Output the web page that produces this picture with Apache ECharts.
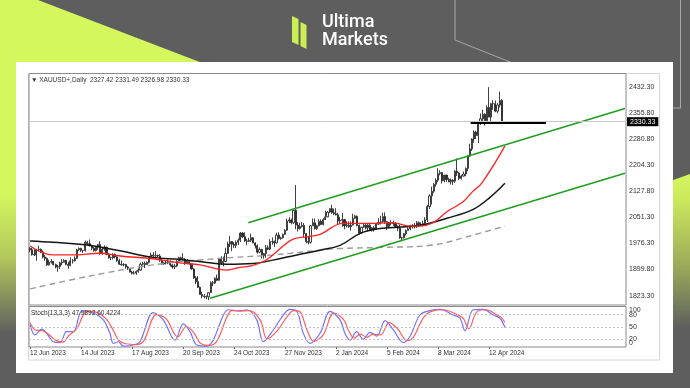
<!DOCTYPE html>
<html><head><meta charset="utf-8">
<script src="https://cdn.jsdelivr.net/npm/echarts@6/dist/echarts.min.js"></script>
<style>html,body{margin:0;padding:0;background:#5e5e5e;}#c{width:690px;height:388px;}</style>
</head><body><div id="c"></div>
<script>
// ---------- DATA ----------
const tickIndex = [0,24,48,72,96,120,144,168,192,216];
const tickLabels = ['12 Jun 2023','14 Jul 2023','17 Aug 2023','20 Sep 2023','24 Oct 2023','27 Nov 2023','2 Jan 2024','5 Feb 2024','8 Mar 2024','12 Apr 2024'];
const priceTicks = [1823.30,1899.80,1976.30,2051.30,2127.80,2204.30,2280.80,2355.80,2432.30];
const stochInnerTicks = [20,50,80];
const stochEdgeTicks = [0,100];
const stochLevels = [20,50,80];
const bidPrice = 2330.33;
const headerText = '\u25BC XAUUSD+,Daily  2327.42 2331.49 2326.98 2330.33';
const stochText = 'Stoch(13,3,3) 47.9892 60.4224';
const totalSlots = 281;
// daily bars from 12 Jun 2023 to 23 Apr 2024: [open, close, low, high]
const ohlc = [
[1961,1957,1950,1964],[1957,1943,1940,1963],[1943,1942,1939,1959],[1942,1958,1925,1959],[1958,1958,1952,1969],
[1958,1951,1947,1961],[1951,1936,1932,1955],[1936,1932,1925,1942],[1932,1913,1910,1935],[1913,1921,1911,1928],
[1921,1923,1917,1930],[1923,1914,1911,1925],[1914,1907,1903,1917],[1907,1908,1893,1913],[1908,1919,1901,1922],
[1919,1921,1912,1930],[1921,1926,1920,1930],[1926,1915,1912,1928],[1915,1911,1902,1922],[1911,1925,1909,1935],
[1925,1925,1917,1930],[1925,1932,1923,1938],[1932,1957,1930,1960],[1957,1961,1954,1964],[1961,1955,1951,1963],
[1955,1955,1948,1957],[1955,1979,1952,1984],[1979,1975,1970,1983],[1975,1969,1967,1987],[1969,1962,1956,1972],
[1962,1955,1952,1965],[1955,1965,1952,1966],[1965,1972,1956,1974],[1972,1945,1943,1982],[1945,1959,1943,1962],
[1959,1965,1954,1970],[1965,1944,1941,1966],[1944,1934,1931,1947],[1934,1934,1927,1937],[1934,1943,1929,1947],
[1943,1936,1932,1946],[1936,1925,1922,1938],[1925,1915,1913,1931],[1915,1913,1911,1926],[1913,1914,1909,1918],
[1914,1907,1902,1916],[1907,1902,1898,1910],[1902,1892,1891,1904],[1892,1889,1885,1896],[1889,1889,1885,1896],
[1889,1894,1884,1897],[1894,1898,1890,1903],[1898,1915,1896,1920],[1915,1917,1911,1922],[1917,1914,1904,1923],
[1914,1920,1913,1923],[1920,1937,1917,1938],[1937,1942,1932,1949],[1942,1940,1936,1950],[1940,1940,1931,1953],
[1940,1939,1935,1943],[1939,1926,1922,1944],[1926,1916,1914,1930],[1916,1919,1913,1922],[1919,1919,1914,1926],
[1919,1922,1915,1929],[1922,1913,1908,1926],[1913,1907,1902,1916],[1907,1910,1901,1916],[1910,1924,1907,1927],
[1924,1934,1923,1937],[1934,1931,1926,1937],[1931,1930,1926,1947],[1930,1919,1913,1933],[1919,1925,1916,1930],
[1925,1916,1914,1926],[1916,1901,1899,1918],[1901,1875,1873,1903],[1875,1864,1857,1880],[1864,1848,1846,1880],
[1848,1827,1827,1850],[1827,1822,1816,1835],[1822,1821,1815,1828],[1821,1820,1813,1824],[1820,1832,1810,1834],
[1832,1861,1832,1865],[1861,1860,1851,1866],[1860,1874,1858,1877],[1874,1868,1866,1885],[1868,1932,1868,1933],
[1932,1919,1914,1938],[1919,1923,1909,1937],[1923,1947,1921,1963],[1947,1974,1945,1981],[1974,1981,1965,1997],
[1981,1973,1953,1982],[1973,1970,1962,1980],[1970,1979,1962,1984],[1979,1985,1971,1990],[1985,2006,1980,2009],
[2006,1995,1991,2008],[1995,1983,1980,2008],[1983,1982,1970,1989],[1982,1985,1980,1992],[1985,1992,1980,2004],
[1992,1977,1976,1994],[1977,1969,1961,1979],[1969,1950,1946,1973],[1950,1958,1947,1964],[1958,1940,1932,1960],
[1940,1946,1931,1948],[1946,1963,1934,1971],[1963,1959,1956,1970],[1959,1981,1956,1988],[1981,1981,1972,1993],
[1981,1977,1965,1984],[1977,2000,1975,2007],[2000,1990,1987,2008],[1990,1992,1986,1995],[1992,2002,1990,2004],
[2002,2014,2001,2017],[2014,2041,2012,2048],[2041,2044,2035,2052],[2044,2036,2031,2048],[2036,2072,2032,2075],
[2072,2029,2017,2146],[2029,2019,2010,2038],[2019,2025,2016,2036],[2025,2028,2022,2038],[2028,2004,1994,2035],
[2004,1981,1976,2006],[1981,1979,1973,1997],[1979,2027,1975,2029],[2027,2036,2026,2048],[2036,2019,2016,2048],
[2019,2027,2015,2030],[2027,2040,2026,2046],[2040,2031,2029,2046],[2031,2045,2028,2049],[2045,2053,2044,2071],
[2053,2067,2052,2070],[2067,2077,2064,2078],[2077,2065,2062,2088],[2065,2062,2058,2077],[2062,2059,2057,2078],
[2059,2041,2030,2065],[2041,2043,2033,2053],[2043,2045,2024,2064],[2045,2027,2017,2047],[2027,2029,2022,2040],
[2029,2024,2021,2040],[2024,2029,2013,2040],[2029,2049,2028,2062],[2049,2055,2047,2059],[2055,2028,2025,2057],
[2028,2006,2001,2031],[2006,2023,2004,2024],[2023,2029,2021,2032],[2029,2021,2016,2032],[2021,2029,2011,2032],
[2029,2015,2013,2036],[2015,2021,2010,2023],[2021,2018,2010,2026],[2018,2032,2016,2035],[2032,2037,2029,2049],
[2037,2039,2031,2056],[2039,2054,2036,2065],[2054,2039,2032,2066],[2039,2025,2015,2040],[2025,2035,2020,2038],
[2035,2035,2028,2043],[2035,2034,2027,2042],[2034,2024,2021,2037],[2024,2020,2011,2028],[2020,1992,1989,2031],
[1992,1992,1984,1995],[1992,2004,1990,2006],[2004,2013,1999,2016],[2013,2018,2013,2023],[2018,2024,2014,2030],
[2024,2025,2019,2032],[2025,2024,2019,2035],[2024,2036,2021,2041],[2036,2031,2026,2040],[2031,2030,2026,2037],
[2030,2034,2025,2042],[2034,2044,2032,2052],[2044,2083,2038,2088],[2083,2114,2076,2119],[2114,2128,2089,2141],
[2128,2148,2123,2152],[2148,2160,2141,2165],[2160,2179,2154,2195],[2179,2182,2174,2189],[2182,2158,2150,2184],
[2158,2175,2154,2175],[2175,2162,2155,2175],[2162,2155,2154,2167],[2155,2160,2147,2165],[2160,2157,2146,2163],
[2157,2186,2152,2189],[2186,2181,2172,2223],[2181,2165,2160,2183],[2165,2172,2162,2176],[2172,2178,2170,2185],
[2178,2194,2171,2197],[2194,2230,2186,2234],[2230,2251,2229,2266],[2251,2280,2245,2282],[2280,2300,2269,2305],
[2300,2290,2280,2304],[2290,2330,2268,2330],[2330,2339,2321,2354],[2339,2352,2325,2365],[2352,2333,2319,2355],
[2333,2372,2325,2378],[2372,2344,2343,2431],[2344,2383,2325,2384],[2383,2383,2365,2393],[2383,2361,2358,2392],
[2361,2379,2355,2385],[2379,2392,2372,2418],[2392,2327,2327,2396],[2327.42,2330.33,2326.98,2331.49]
];
// moving averages: [bar index, value]
const maRed = [[0,1968],[10.8,1942],[20.2,1942],[33,1947],[42.3,1939],[57.9,1931],[70.6,1919],[80,1913],[92.7,1898],[98.8,1906],[104,1910],[111.5,1929],[123.8,1988],[130.4,1995],[136.5,2002],[147.3,2034],[158.6,2034],[170.8,2036],[177.4,2027],[183.5,2026],[189.7,2036],[196.2,2068],[203.8,2097],[208.5,2128],[212.7,2152],[223.5,2259]];
const maBlack = [[0,1983],[10.8,1979],[26.8,1971],[42.4,1954],[57.9,1935],[70.6,1929],[83.3,1920],[92.7,1915],[104.9,1917],[114.3,1927],[125.6,1942],[136.5,1956],[145.9,1970],[155.3,2005],[163,2018],[173,2023],[184,2029],[196.2,2049],[208.6,2075],[216.5,2110],[223.5,2151]];
const maGrey = [[0,1843],[26.8,1879],[57.9,1913],[89.4,1932],[114.3,1942],[136.5,1956],[146,1961],[166.1,1964],[189.7,1971],[205.6,1995],[223.5,2026]];
// trend lines: [bar index, price]
const upperChannel = [[102.7,2036],[280,2369]];
const lowerChannel = [[84.7,1815.7],[280,2180]];
const supportLine = [[207.4,2326.5],[242.8,2326.5]];
// stochastic (13,3,3): [bar index, value]
const stochK = [[0,55],[2.3,30],[5.5,44],[7.8,34],[10.9,13],[14.1,11],[17.2,38],[20.4,38],[23.5,84],[25.1,89],[29.8,84],[34.5,67],[37.6,34],[39.2,9],[41.5,13],[43.9,2],[48.6,5],[51.7,13],[58,85],[62.7,67],[68.2,17],[72.1,57],[75.3,38],[78.4,5],[83.1,2],[86.2,17],[91,79],[93.3,92],[98.8,89],[102,92],[106.7,67],[109.8,13],[114.5,42],[119.2,79],[122.3,93],[125.5,89],[128.6,34],[131.8,9],[136.5,34],[141.2,88],[145.9,67],[148.2,34],[150.6,17],[153.7,38],[156.8,19],[160,36],[163.2,27],[167.1,65],[171,42],[175.7,11],[178.8,26],[183.5,79],[188.2,90],[192.9,93],[199.2,79],[202.4,71],[204.7,40],[208.6,92],[213.3,93],[218,79],[221.2,71],[223.5,47.99]];
const stochD = [[0,60],[2.5,42],[6,40],[9,30],[12,17],[15.5,12],[18.5,30],[22,45],[25,78],[27,88],[31,86],[36,68],[39.5,38],[41.5,18],[45,8],[50,6],[53.5,15],[59.5,80],[64,70],[69.5,25],[73.5,50],[77,36],[80,10],[84.5,4],[88,15],[92.5,72],[95,90],[100.5,89],[103.5,90],[108.5,65],[111.5,20],[116,38],[121,75],[124,90],[127,87],[130.5,40],[133.5,14],[138,30],[143,84],[147.5,68],[150,40],[152.5,22],[155.5,32],[158.5,24],[161.5,32],[165,30],[169,60],[173,45],[177.5,16],[180.5,25],[185.5,75],[190,90],[194.5,92],[201,80],[204,70],[206.5,45],[210.5,88],[215,92],[219.5,80],[222,72],[223.5,60.42]];
const categories = Array.from({length: totalSlots}, (_, i) => String(i));

// ---------- CHART ----------
const FONT = 'Liberation Sans';
const LIME = '#d4f75e';
const BG = '#5e5e5e';
const chart = echarts.init(document.getElementById('c'), null, {renderer: 'canvas', width: 690, height: 388});
const lineSeries = (data, color, width, extra) => Object.assign({
  type: 'line', xAxisIndex: 1, yAxisIndex: 0, data: data, showSymbol: false, symbol: 'none',
  silent: true, lineStyle: {color: color, width: width}, z: 4
}, extra || {});
const labelBase = {fontFamily: FONT, fontSize: 7, color: '#333', margin: 3, hideOverlap: false};

chart.setOption({
  backgroundColor: BG,
  animation: false,
  graphic: [
    {type: 'polygon', z: -10, shape: {points: [[0,0],[38,0],[231,74],[16,74],[16,388],[0,388]]},
      style: {fill: {type: 'linear', x: 0, y: 0, x2: 0, y2: 1, colorStops: [
        {offset: 0, color: LIME}, {offset: 0.5, color: LIME}, {offset: 0.66, color: '#b3c95c'}, {offset: 0.86, color: BG}, {offset: 1, color: BG}]}}},
    {type: 'polygon', z: -10, shape: {points: [[640,192],[690,174],[690,388],[640,388]]},
      style: {fill: {type: 'linear', x: 0, y: 0, x2: 0, y2: 1, colorStops: [
        {offset: 0, color: LIME}, {offset: 0.12, color: '#cce85c'}, {offset: 0.45, color: '#97a65a'}, {offset: 0.72, color: BG}, {offset: 1, color: BG}]}}},
    {type: 'polyline', z: -9, shape: {points: [[455,0],[455,40],[545,76]]}, style: {stroke: '#a8a8a8', lineWidth: 1, fill: null}},
    {type: 'polyline', z: -9, shape: {points: [[680.5,0],[680.5,108],[673,108]]}, style: {stroke: '#a8a8a8', lineWidth: 1, fill: null}},
    {type: 'rect', z: -8, shape: {x: 16, y: 62, width: 657, height: 311}, style: {fill: '#ffffff'}},
    {type: 'rect', z: -7, shape: {x: 28.5, y: 73.5, width: 631, height: 286.5}, style: {fill: '#ffffff', stroke: '#d6d6d6', lineWidth: 1}},
    {type: 'polygon', z: 10, shape: {points: [[292,16],[298.5,19],[298.5,45],[292,42]]}, style: {fill: '#c9ef55'}},
    {type: 'polygon', z: 10, shape: {points: [[300.5,22],[306.5,25],[306.5,49],[300.5,46]]}, style: {fill: '#c9ef55'}},
    {type: 'text', z: 10, style: {x: 322, y: 13, text: 'Ultima', fill: '#ffffff', font: '500 18px Roboto'}},
    {type: 'text', z: 10, style: {x: 322, y: 31, text: 'Markets', fill: '#ffffff', font: '500 18px Roboto'}}
  ],
  title: [
    {text: headerText, left: 31, top: 76.5, textStyle: {fontFamily: FONT, fontSize: 6.5, fontWeight: 'normal', color: '#333'}, padding: 0},
    {text: stochText, left: 31, top: 309.5, textStyle: {fontFamily: FONT, fontSize: 6.5, fontWeight: 'normal', color: '#333'}, padding: 0}
  ],
  grid: [
    {left: 29, top: 73.5, width: 597, height: 231.5, show: true, borderColor: '#8a8a8a', borderWidth: 1, backgroundColor: 'transparent'},
    {left: 29, top: 306.5, width: 597, height: 40.5, show: true, borderColor: '#8a8a8a', borderWidth: 1, backgroundColor: 'transparent'}
  ],
  xAxis: [
    {type: 'category', gridIndex: 0, data: categories, boundaryGap: true, show: false},
    {type: 'value', gridIndex: 0, min: -0.5, max: totalSlots - 0.5, show: false},
    {type: 'value', gridIndex: 1, min: -0.5, max: totalSlots - 0.5,
      axisLine: {show: false}, splitLine: {show: false},
      axisTick: {show: true, customValues: tickIndex, length: 2, lineStyle: {color: '#666'}},
      axisLabel: Object.assign({}, labelBase, {customValues: tickIndex, formatter: v => tickLabels[tickIndex.indexOf(v)] || '',
        align: 'left', fontSize: 6.5})}
  ],
  yAxis: [
    {type: 'value', gridIndex: 0, min: 1796.2, max: 2470.8, position: 'right',
      axisLine: {show: false}, splitLine: {show: false}, axisTick: {show: false},
      axisLabel: Object.assign({}, labelBase, {customValues: priceTicks, formatter: v => v.toFixed(2)})},
    {type: 'value', gridIndex: 1, min: 0, max: 100, position: 'right',
      axisLine: {show: false}, splitLine: {show: false}, axisTick: {show: false},
      axisLabel: Object.assign({}, labelBase, {customValues: stochInnerTicks})},
    {type: 'value', gridIndex: 1, min: 0, max: 100, position: 'right',
      axisLine: {show: false}, splitLine: {show: false}, axisTick: {show: false},
      axisLabel: Object.assign({}, labelBase, {customValues: stochEdgeTicks, showMinLabel: true, showMaxLabel: true,
        formatter: v => v === 100 ? '{t|100}' : '{b|0}',
        rich: {t: {fontFamily: FONT, fontSize: 7, color: '#333', padding: [8, 0, 0, 0]},
               b: {fontFamily: FONT, fontSize: 7, color: '#333', padding: [0, 0, 8, 0]}}})}
  ],
  series: [
    {type: 'candlestick', xAxisIndex: 0, yAxisIndex: 0, data: ohlc, barWidth: 1.6, silent: true, z: 3,
      itemStyle: {color: '#ffffff', color0: '#2a2a2a', borderColor: '#2a2a2a', borderColor0: '#2a2a2a', borderWidth: 0.9},
      markLine: {symbol: 'none', silent: true, animation: false,
        lineStyle: {color: '#c8c8c8', type: 'solid', width: 1},
        label: {position: 'end', formatter: bidPrice.toFixed(2), backgroundColor: '#000', color: '#fff',
          fontFamily: FONT, fontSize: 7, padding: [1, 3, 1, 3], distance: 1},
        data: [{yAxis: bidPrice}]}},
    lineSeries(maGrey, '#9a9a9a', 1.4, {smooth: 0.4, lineStyle: {color: '#9a9a9a', width: 1.4, type: [6, 4]}}),
    lineSeries(maBlack, '#151515', 1.5, {smooth: 0.4}),
    lineSeries(maRed, '#ff2020', 1.3, {smooth: 0.4}),
    lineSeries(upperChannel, '#1f9d1f', 1.5),
    lineSeries(lowerChannel, '#1f9d1f', 1.5),
    lineSeries(supportLine, '#000000', 2),
    {type: 'line', xAxisIndex: 2, yAxisIndex: 1, data: stochK, smooth: 0.35, showSymbol: false, silent: true,
      lineStyle: {color: '#7373ff', width: 1.2}, z: 4,
      markLine: {symbol: 'none', silent: true, lineStyle: {color: '#c4c4c4', type: [2, 2], width: 1}, label: {show: false},
        data: stochLevels.map(v => ({yAxis: v}))}},
    {type: 'line', xAxisIndex: 2, yAxisIndex: 1, data: stochD, smooth: 0.35, showSymbol: false, silent: true,
      lineStyle: {color: '#ff5e5e', width: 1.2}, z: 4}
  ]
});
</script></body></html>
